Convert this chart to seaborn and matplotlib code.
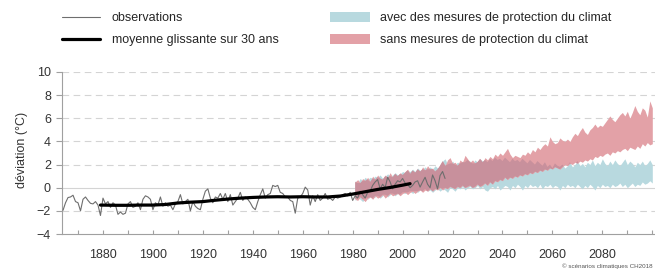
import matplotlib
matplotlib.use("Agg")
import matplotlib.pyplot as plt
from matplotlib.lines import Line2D
from matplotlib.patches import Patch
import numpy as np
import pandas as pd
import seaborn as sns

# observations (deviation in degC), 1864-2017
obs_years = np.arange(1864, 2018)
obs_vals = [
    -1.95, -1.3, -0.85, -0.8, -0.65, -1.2, -1.3, -2.0, -1.0, -0.8,
    -1.1, -1.35, -1.4, -1.2, -1.5, -2.4, -0.9, -1.4, -1.2, -1.7,
    -1.3, -1.5, -2.3, -2.1, -2.3, -2.2, -1.4, -1.2, -1.7, -1.6,
    -1.3, -1.9, -1.0, -0.7, -0.8, -1.0, -1.9, -1.3, -1.5, -0.8,
    -1.6, -1.3, -1.6, -1.5, -1.9, -1.4, -1.2, -0.6, -1.4, -1.2,
    -1.0, -2.0, -1.2, -1.6, -1.8, -1.9, -1.0, -0.3, -0.1, -0.9,
    -1.3, -0.8,
    -0.9, -0.5, -1.0, -0.5, -1.2, -0.6, -1.5, -1.2, -0.9, -0.4,
    -1.1, -0.8, -1.0, -1.3, -1.7, -1.9, -1.2, -0.6, -0.1, -0.9,
    -0.6, -0.5, 0.2, 0.1, 0.2, -0.4, -0.5, -0.8, -0.8, -1.1,
    -1.2, -2.2, -0.9, -0.8, -0.5, 0.05, -0.2, -1.5, -0.7, -1.2,
    -0.6, -1.1, -0.9, -0.5, -1.0, -0.9, -1.1, -0.8, -0.9, -0.8,
    -0.6, -0.5, -0.7, -0.4,
    -1.1, -0.7, -0.9, -0.3, -0.6, -0.9, -0.4, -0.3, 0.2, 0.5,
    0.7, -0.1, 0.3, 0.0, 0.9, 0.5, -0.1, 0.3, 0.6, 0.5,
    0.8, 0.4, 0.3, 0.0, 0.2, 0.5, 0.6, 0.05, 0.5, 0.9,
    0.3, 0.0, 1.1, 0.6, -0.1, 1.05, 1.4, 0.8,
]

# 30-year running mean
smooth_years = [1879, 1885, 1890, 1895, 1900, 1905, 1910, 1915, 1920, 1925,
                1930, 1935, 1940, 1945, 1950, 1955, 1960, 1965, 1970, 1975,
                1980, 1985, 1990, 1995, 2000, 2003]
smooth_vals = [-1.5, -1.52, -1.52, -1.5, -1.5, -1.45, -1.32, -1.25, -1.2, -1.08,
               -0.98, -0.9, -0.84, -0.8, -0.78, -0.8, -0.78, -0.8, -0.8, -0.72,
               -0.55, -0.35, -0.15, 0.02, 0.22, 0.35]

# scenario ranges, 1981-2100
band_years = np.arange(1981, 2101)
with_hi = [
    0.6, 0.4, 0.8, 0.6, 0.9, 0.7, 0.9, 0.8, 1.0, 0.9,
    1.1, 0.8, 1.0, 1.2, 1.0, 1.1, 1.3, 1.1, 1.2, 1.4,
    1.3, 1.5, 1.4, 1.6, 1.4, 1.7, 1.5, 1.6, 1.8, 1.6,
    1.8, 1.6, 1.9, 1.7, 1.9, 2.3, 2.5, 2.0, 2.1, 2.3,
    2.0, 2.2, 2.1, 2.3, 2.2, 2.4, 2.3, 2.1, 2.4, 2.2,
    2.5, 2.3, 2.4, 2.2, 2.5, 2.3, 2.6, 2.4, 2.5, 2.3,
    2.6, 2.4, 2.2, 2.5, 2.3, 2.4, 2.2, 2.5, 2.3, 2.1,
    2.4, 2.2, 2.0, 2.3, 2.1, 1.9, 2.2, 1.8, 2.0, 1.7,
    2.1, 1.9, 1.8, 2.0, 1.7, 1.9, 2.2, 1.8, 2.0, 2.3,
    1.9, 2.1, 1.8, 2.2, 2.0, 2.4, 1.9, 2.2, 2.0, 2.5,
    2.1, 1.9, 2.3, 2.0, 2.4, 2.1, 1.9, 2.2, 2.5, 2.0,
    2.3, 2.1, 1.8, 2.2, 2.0, 2.3, 1.9, 2.1, 2.4, 2.0,
]
with_lo = [
    -1.1, -0.9, -1.0, -1.2, -0.9, -1.0, -0.8, -0.9, -0.8, -0.7,
    -0.9, -0.7, -0.6, -0.8, -0.6, -0.5, -0.7, -0.5, -0.6, -0.4,
    -0.5, -0.4, -0.3, -0.5, -0.3, -0.4, -0.2, -0.3, -0.1, -0.3,
    -0.2, -0.4, -0.2, -0.1, -0.3, -0.1, -0.2, -0.4, 0.0, -0.1,
    -0.3, 0.0, -0.1, 0.1, -0.2, 0.0, 0.1, -0.1, 0.0, 0.2,
    -0.1, 0.1, -0.2, -0.3, 0.0, 0.1, -0.1, 0.2, -0.2, 0.0,
    0.2, 0.1, -0.2, 0.2, 0.0, 0.3, 0.1, -0.2, 0.2, 0.0,
    0.3, 0.1, 0.2, 0.0, 0.3, -0.1, 0.2, 0.1, 0.3, 0.0,
    0.2, 0.1, -0.2, 0.2, 0.0, 0.3, 0.1, 0.2, 0.0, 0.3,
    0.1, -0.1, 0.2, 0.0, 0.3, 0.1, -0.2, 0.2, 0.0, 0.3,
    0.1, 0.2, 0.0, 0.3, 0.1, 0.2, 0.4, 0.1, 0.3, 0.0,
    0.2, 0.4, 0.1, 0.3, 0.2, 0.5, 0.3, 0.4, 0.6, 0.4,
]
without_hi = [
    0.5, 0.7, 0.4, 0.8, 0.6, 0.9, 0.5, 1.0, 0.7, 1.1,
    0.8, 0.7, 1.1, 0.9, 1.3, 0.9, 1.2, 1.0, 1.3, 1.1,
    1.4, 1.6, 1.2, 1.5, 1.3, 1.6, 1.4, 1.8, 1.5, 1.9,
    1.6, 1.7, 1.4, 1.6, 2.0, 2.3, 1.9, 2.4, 2.6, 2.1,
    2.2, 1.9, 2.4, 2.2, 2.8, 2.5, 2.2, 2.4, 2.1, 2.3,
    2.5, 2.2, 2.6, 2.4, 2.7, 2.5, 2.9, 2.7, 3.0, 2.8,
    3.1, 3.4, 2.9, 2.6, 2.8, 2.7, 2.6, 2.9, 2.8, 3.1,
    2.9, 3.3, 3.1, 3.5, 3.3, 3.6, 3.8, 3.6, 4.4, 4.0,
    3.8, 3.9, 4.3, 4.1, 4.0, 4.2, 4.0, 4.4, 4.7, 4.5,
    4.9, 5.2, 4.8, 4.6, 5.0, 5.2, 5.5, 5.2, 5.4, 5.3,
    5.6, 5.9, 6.2, 5.9, 5.7, 6.0, 6.3, 6.5, 6.2, 6.6,
    6.0, 6.5, 7.1, 6.6, 6.3, 6.9, 6.7, 6.1, 7.5, 6.9,
]
without_lo = [
    -1.0, -1.1, -0.8, -1.0, -1.2, -0.9, -0.8, -1.0, -0.7, -0.9,
    -0.8, -0.6, -0.9, -0.7, -0.5, -0.7, -0.6, -0.5, -0.7, -0.5,
    -0.4, -0.6, -0.4, -0.3, -0.5, -0.3, -0.2, -0.4, -0.2, -0.3,
    -0.1, -0.3, -0.1, -0.2, 0.0, -0.2, 0.0, -0.1, 0.1, 0.0,
    -0.1, 0.1, 0.0, 0.2, 0.0, 0.1, 0.2, 0.0, 0.1, 0.3,
    0.1, 0.2, 0.4, 0.2, 0.5, 0.3, 0.6, 0.5, 0.7, 0.6,
    0.9, 0.7, 0.9, 0.8, 1.0, 0.9, 1.1, 1.0, 1.2, 1.1,
    1.3, 1.2, 1.4, 1.3, 1.5, 1.4, 1.6, 1.5, 1.7, 1.6,
    1.8, 1.7, 1.6, 1.8, 2.0, 1.9, 2.1, 2.0, 2.2, 2.1,
    2.3, 2.2, 2.4, 2.3, 2.5, 2.4, 2.7, 2.6, 2.8, 2.7,
    2.9, 3.0, 2.8, 3.1, 3.0, 3.2, 3.1, 3.3, 3.4, 3.2,
    3.5, 3.4, 3.3, 3.6, 3.4, 3.8, 3.6, 3.9, 3.7, 3.8,
]

labels = ["observations", "moyenne glissante sur 30 ans",
          "avec des mesures de protection du climat",
          "sans mesures de protection du climat"]

sns.set_style("white")
plt.rcParams['font.family'] = ['Liberation Sans', 'DejaVu Sans']
plt.rcParams['font.size'] = 9

c_blue = "#b8d9df"
c_pink = "#e3a1a7"
c_mix = "#c8909c"
c_obs = "#6e6e6e"

fig = plt.figure(figsize=(6.55, 2.71), dpi=100)
ax = fig.add_axes([0.0947, 0.1365, 0.905, 0.598])

# grid
for y in [-2, 2, 4, 6, 8, 10]:
    ax.axhline(y, color="#d4d4d4", lw=0.8, ls=(0, (6, 4)), zorder=0)
ax.axhline(0, color="#d4d4d4", lw=0.8, zorder=0)

# scenario bands
w_lo, w_hi = np.array(with_lo), np.array(with_hi)
p_lo, p_hi = np.array(without_lo), np.array(without_hi)
ax.fill_between(band_years, w_lo, w_hi, color=c_blue, lw=0, zorder=1)
ax.fill_between(band_years, p_lo, p_hi, color=c_pink, lw=0, zorder=2)
m_lo = np.maximum(w_lo, p_lo)
m_hi = np.minimum(w_hi, p_hi)
ax.fill_between(band_years, m_lo, m_hi, where=m_hi > m_lo, interpolate=True,
                color=c_mix, lw=0, zorder=3)

obs = pd.DataFrame({"year": obs_years, "dev": obs_vals})
smooth = pd.DataFrame({"year": smooth_years, "dev": smooth_vals})
sns.lineplot(data=obs, x="year", y="dev", color=c_obs, lw=0.8, ax=ax, zorder=4)
sns.lineplot(data=smooth, x="year", y="dev", color="black", lw=2.3, ax=ax, zorder=5)

ax.set_xlim(1863.6, 2101)
ax.set_ylim(-4, 10)
ax.set_xticks(range(1880, 2100, 20))
ax.set_xticks(range(1870, 2101, 10), minor=True)
ax.set_yticks(range(-4, 11, 2))
ax.set_xlabel("")
ax.set_ylabel("")
for s in ["top", "right"]:
    ax.spines[s].set_visible(False)
for s in ["left", "bottom"]:
    ax.spines[s].set_color("#a0a0a0")
    ax.spines[s].set_linewidth(0.8)
ax.tick_params(axis="y", left=True, direction="out", length=4, width=0.8,
               color="#a0a0a0", pad=4, labelsize=9, labelcolor="#333333")
ax.tick_params(axis="x", which="both", bottom=True, direction="in", length=3,
               width=0.8, color="#a0a0a0", pad=11, labelsize=9, labelcolor="#333333")

fig.text(22 / 655, 1 - 150 / 271, "déviation (°C)", rotation=90,
         ha="center", va="center", fontsize=9, color="#333333")

h_left = [Line2D([], [], color=c_obs, lw=0.8),
          Line2D([], [], color="black", lw=2.3)]
leg1 = fig.legend(h_left, labels[:2], loc="upper left",
                  bbox_to_anchor=(62 / 655, 1 - 12 / 271), frameon=False,
                  handlelength=3.0, handletextpad=1.0, labelspacing=0.8,
                  borderpad=0, borderaxespad=0, fontsize=9)
h_right = [Patch(facecolor=c_blue, lw=0), Patch(facecolor=c_pink, lw=0)]
leg2 = fig.legend(h_right, labels[2:], loc="upper left",
                  bbox_to_anchor=(330 / 655, 1 - 12 / 271), frameon=False,
                  handlelength=3.2, handleheight=0.8, handletextpad=0.8,
                  labelspacing=0.8, borderpad=0, borderaxespad=0, fontsize=9)

fig.text(0.997, 0.008, "© scénarios climatiques CH2018", ha="right", va="bottom",
         fontsize=4.5, color="#555555")

fig.savefig("out.png", dpi=100)
